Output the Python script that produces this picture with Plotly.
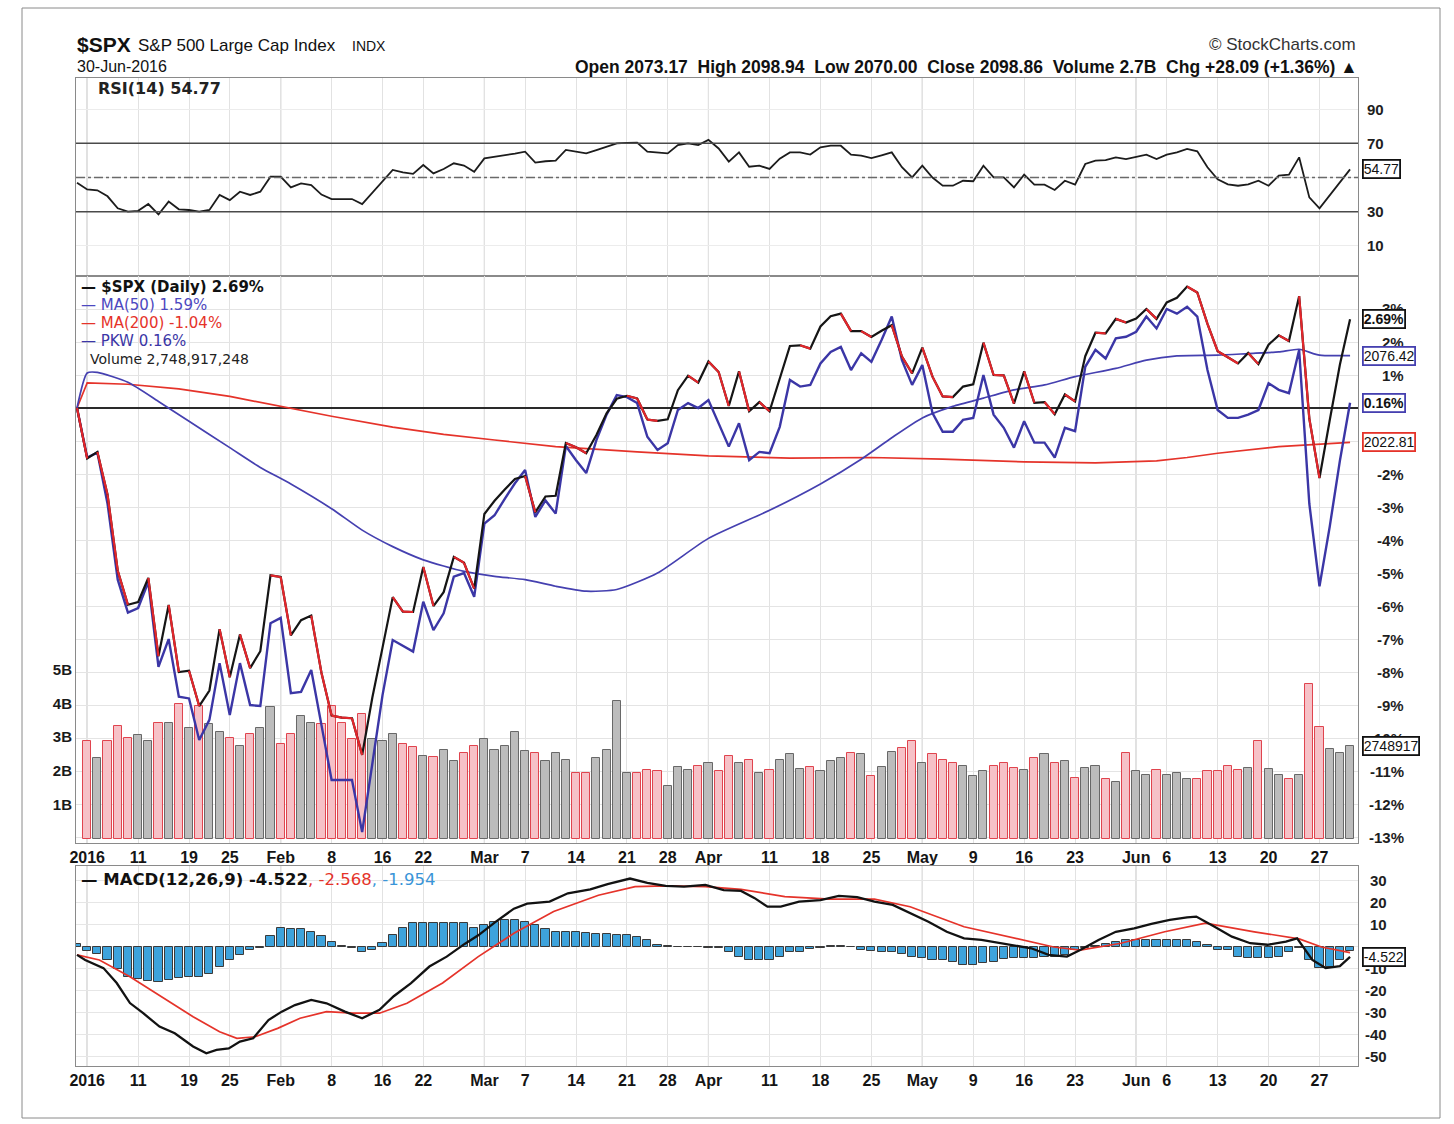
import plotly.graph_objects as go
import pandas as pd

# ---------------- data ----------------
holidays = ["2016-01-18", "2016-02-15", "2016-03-25", "2016-05-30"]
sessions = ["2015-12-31"] + [d.strftime("%Y-%m-%d") for d in pd.bdate_range("2016-01-04", "2016-06-30")
                             if d.strftime("%Y-%m-%d") not in holidays]

tick_dates = ["2016-01-04", "2016-01-11", "2016-01-19", "2016-01-25", "2016-02-01", "2016-02-08", "2016-02-16",
              "2016-02-22", "2016-03-01", "2016-03-07", "2016-03-14", "2016-03-21", "2016-03-28", "2016-04-01",
              "2016-04-11", "2016-04-18", "2016-04-25", "2016-05-02", "2016-05-09", "2016-05-16", "2016-05-23",
              "2016-06-01", "2016-06-06", "2016-06-13", "2016-06-20", "2016-06-27"]
tick_labels = ["2016", "11", "19", "25", "Feb", "8", "16", "22", "Mar", "7", "14", "21", "28", "Apr",
               "11", "18", "25", "May", "9", "16", "23", "Jun", "6", "13", "20", "27"]
month_labels = ["2016", "Feb", "Mar", "Apr", "May", "Jun"]

# $SPX performance (%)
spx_pct = [0, -1.53, -1.33, -2.63, -4.93, -5.96, -5.88, -5.15, -7.52, -5.97,
           -8.00, -7.96, -9.03, -8.56, -6.70, -8.16, -6.86, -7.88, -7.37, -5.07,
           -5.12, -6.89, -6.43, -6.29, -8.02, -9.32, -9.38, -9.40, -10.51, -8.77,
           -7.26, -5.73, -6.17, -6.18, -4.82, -6.00, -5.58, -4.51, -4.69, -5.47,
           -3.21, -2.81, -2.47, -2.15, -2.06, -3.16, -2.68, -2.66, -1.06, -1.19,
           -1.37, -0.82, -0.16, 0.28, 0.37, 0.29, -0.35, -0.39, -0.34, 0.54,
           0.98, 0.77, 1.41, 1.09, 0.06, 1.11, -0.10, 0.18, -0.10, 0.87,
           1.88, 1.90, 1.80, 2.47, 2.78, 2.86, 2.33, 2.33, 2.15, 2.34,
           2.51, 1.56, 1.05, 1.83, 0.95, 0.35, 0.33, 0.65, 0.72, 1.98,
           1.00, 0.99, 0.13, 1.11, 0.16, 0.18, -0.19, 0.41, 0.20, 1.57,
           2.28, 2.26, 2.70, 2.59, 2.71, 3.00, 2.70, 3.20, 3.34, 3.68,
           3.50, 2.55, 1.72, 1.54, 1.35, 1.67, 1.33, 1.92, 2.20, 2.03,
           3.39, -0.32, -2.12, -0.38, 1.31, 2.69]

# PKW performance (%)
pkw_pct = [0, -1.5, -1.35, -2.9, -5.2, -6.2, -6.06, -5.27, -7.84, -7.0,
           -8.75, -8.8, -10.06, -9.45, -7.73, -9.3, -7.73, -9.0, -9.03, -6.52,
           -6.36, -8.64, -8.6, -7.94, -9.6, -11.27, -11.27, -11.27, -12.85, -10.8,
           -8.7, -7.03, -7.2, -7.38, -5.87, -6.73, -6.22, -5.11, -5.0, -5.72,
           -3.5, -3.25, -2.75, -2.28, -1.88, -3.3, -2.8, -3.2, -1.15, -1.58,
           -1.97, -0.97, -0.2, 0.39, 0.33, 0.15, -0.87, -1.27, -1.07, -0.06,
           0.15, 0.0, 0.24, -0.46, -1.17, -0.46, -1.58, -1.33, -1.37, -0.57,
           0.85, 0.65, 0.7, 1.35, 1.7, 1.85, 1.15, 1.66, 1.4, 2.06,
           2.77, 1.45, 0.7, 1.3, -0.15, -0.72, -0.72, -0.36, -0.3, 1.0,
           -0.2, -0.6, -1.2, -0.4, -1.05, -1.05, -1.5, -0.6, -0.7, 1.25,
           1.76, 1.5, 2.11, 2.16, 2.31, 2.77, 2.41, 3.0, 2.86, 3.07,
           2.77, 1.15, -0.06, -0.3, -0.3, -0.2, -0.06, 0.75, 0.55, 0.45,
           1.76, -2.9, -5.4, -3.6, -1.6, 0.16]

# moving averages (% vs start), read at selected sessions
ma50_pos = [0, 1, 2, 5, 8, 11, 15, 18, 21, 25, 28, 31, 34, 38, 41, 44, 47, 50, 53, 57, 62, 68, 73, 77, 80,
            83, 86, 89, 92, 95, 98, 102, 105, 108, 112, 115, 118, 120, 122, 125]
ma50_pct = [0, 1.06, 1.08, 0.78, 0.2, -0.4, -1.2, -1.8, -2.3, -3.05, -3.7, -4.2, -4.6, -4.95, -5.1, -5.2, -5.4,
            -5.55, -5.5, -5.0, -3.95, -3.1, -2.3, -1.55, -0.9, -0.3, 0.05, 0.3, 0.55, 0.7, 0.95, 1.2, 1.45,
            1.58, 1.6, 1.65, 1.7, 1.78, 1.6, 1.59]
ma200_pos = [0, 1, 5, 10, 15, 20, 25, 31, 36, 41, 47, 55, 62, 70, 78, 85, 93, 100, 106, 109, 112, 118, 122, 125]
ma200_pct = [0, 0.76, 0.72, 0.58, 0.35, 0.05, -0.25, -0.58, -0.8, -0.97, -1.17, -1.33, -1.45, -1.52, -1.5,
             -1.55, -1.63, -1.66, -1.6, -1.5, -1.37, -1.17, -1.1, -1.04]

# volume (billions), sessions 1..125
volume_b = [2.9, 2.37, 2.9, 3.34, 2.99, 3.05, 2.9, 3.43, 3.43, 3.99,
            3.28, 3.93, 3.4, 3.14, 2.99, 2.75, 3.1, 3.28, 3.88, 2.8,
            3.1, 3.64, 3.43, 3.4, 3.93, 3.43, 2.95, 3.7, 2.95, 2.9,
            3.1, 2.8, 2.7, 2.45, 2.4, 2.62, 2.3, 2.52, 2.75, 2.95,
            2.62, 2.75, 3.14, 2.58, 2.52, 2.29, 2.52, 2.33, 1.93, 1.93,
            2.39, 2.62, 4.06, 1.93, 1.93, 2.03, 1.99, 1.57, 2.13, 2.03,
            2.16, 2.23, 1.99, 2.43, 2.23, 2.33, 1.93, 2.03, 2.33, 2.49,
            2.06, 2.13, 1.99, 2.29, 2.39, 2.52, 2.49, 1.86, 2.13, 2.55,
            2.68, 2.9, 2.23, 2.49, 2.33, 2.23, 2.16, 1.86, 2.0, 2.16,
            2.23, 2.1, 2.04, 2.39, 2.49, 2.23, 2.29, 1.8, 2.1, 2.16,
            1.77, 1.67, 2.52, 1.99, 1.89, 2.04, 1.87, 1.93, 1.77, 1.77,
            1.99, 1.99, 2.16, 2.04, 2.1, 2.88, 2.07, 1.89, 1.77, 1.87,
            4.56, 3.31, 2.65, 2.52, 2.75]

# RSI(14)
rsi = [47, 43, 42.5, 39, 32, 30, 30.5, 34.5, 28.4, 35.9,
       31.4, 31, 30, 31, 39.8, 36.8, 41.7, 39.8, 41.7, 50.5,
       50.5, 44.2, 46.6, 45.5, 40, 37.4, 37.4, 37.4, 34.5, 41,
       48, 54.4, 53, 52.1, 57.3, 52.4, 55, 58.3, 57, 53.4,
       61.2, 62, 63.2, 64, 65.1, 58.7, 59.5, 59.9, 66.1, 65,
       64.1, 66, 68, 70, 70.3, 70.4, 65.1, 64.8, 64.1, 69,
       70, 69, 72, 67, 59.3, 64.7, 56.3, 56.9, 55, 61,
       64.7, 64.7, 63.4, 67.7, 68.6, 68.6, 63.4, 62.8, 61.4, 63,
       64.7, 56, 50.1, 56.9, 50, 45.2, 45.2, 48.1, 47.8, 56.9,
       50.1, 50.1, 44.2, 51.7, 45.8, 45.8, 42.7, 48.1, 45.8, 57.9,
       59.9, 60.2, 61.8, 60.8, 62.2, 63.4, 60.8, 63.4, 64.7, 66.7,
       65.3, 56, 49, 46, 45.2, 46, 48.1, 45.2, 51.1, 51.7,
       61.8, 38.4, 32, 39.7, 47.3, 54.77]

# MACD(12,26,9) line and signal, read at curve vertices (session position, value)
macd_pos = [0, 0.8, 2.6, 3.9, 5.2, 6.5, 8.1, 9.6, 11.4, 12.7, 13.7, 14.9, 16, 17.3, 18.8, 20.1, 21.4, 23, 24.5,
            26.3, 28, 29.7, 31.1, 32.8, 34.6, 36.3, 38.1, 39.4, 41.1, 42.9, 44.2, 46.4, 48.2, 50.4, 52.1, 54.3,
            56, 57.8, 59.6, 61.7, 63.5, 65.2, 66.5, 67.8, 69.1, 70.9, 73, 74.8, 76.6, 78.3, 80.1, 81.8, 83.6,
            85.4, 87.1, 88.8, 90.6, 92.3, 93.7, 95.4, 97.2, 98.5, 100.3, 102, 103.8, 105.5, 107.3, 109, 109.9,
            111.7, 113.4, 115.2, 116.9, 118.7, 119.8, 121.3, 122.6, 124, 125]
macd_val = [-3.6, -5.9, -9.6, -16.4, -25.5, -30.1, -36.2, -39.2, -45.2, -48.3, -46.8, -46.1, -43, -41.5, -33.2,
            -29.4, -26.4, -24.1, -25.6, -29.4, -32.4, -28.6, -22.4, -16.4, -8.9, -4.4, 1.5, 5.3, 11.4, 17.4,
            19.7, 20.6, 24.4, 26.2, 28.6, 31.1, 29.1, 27.8, 27.4, 28.2, 25.8, 25.5, 22.3, 18.3, 18.3, 20.6,
            21.3, 23.2, 22.7, 20.6, 19.1, 15.3, 11.5, 6.9, 3.9, 3.2, 1.7, 0.5, -0.6, -3.6, -4.4, -1.4, 3.2,
            6.9, 8.5, 10.5, 12.3, 13.5, 13.8, 9.2, 4.7, 1.7, 1.0, 2.4, 3.9, -5.9, -9.6, -8.7, -4.522]
signal_pos = [0, 2.2, 5.2, 8.3, 11.4, 14, 15.7, 17.5, 19.7, 21.9, 24.5, 27.1, 29.7, 32.4, 35.9, 39.4, 42.9,
              46.8, 51.2, 54.8, 57.8, 61.7, 65.2, 69.5, 73.9, 78.3, 81.8, 87.1, 91.5, 95.9, 98.5, 102.5, 106.8,
              110.8, 115.6, 120, 122.2, 125]
signal_val = [-3.6, -5.9, -13.5, -22.6, -31.7, -38.5, -41.5, -40.8, -37, -32.4, -29.4, -30.1, -30.1, -25.6,
              -16.4, -4.4, 6.2, 16.1, 23.5, 27.4, 27.8, 27.4, 26.2, 22.9, 21.7, 21.7, 18.3, 9.2, 4.7, 0, -1.4,
              1.7, 6.9, 10.8, 6.9, 3.7, 0, -2.568]
macd_hist = [1.5, -2, -3, -6, -10, -13.5, -14.5, -15.5, -16, -15,
             -14, -13.5, -13.5, -12.5, -9, -6, -3.5, -1.2, -0.3, 5,
             8.6, 8.2, 8, 7, 5, 2.4, 0.4, -0.6, -2.1, -1.4,
             1.7, 5.5, 8.6, 10.9, 10.9, 10.9, 10.9, 10.9, 10.9, 8.6,
             10.1, 11.5, 12.3, 12.3, 11.5, 10.1, 8, 7, 7, 7,
             6.2, 6, 6, 5.5, 5.5, 4.7, 3.2, 0.9, 0.3, 0.2,
             -0.2, 0.1, -0.3, -0.5, -2.1, -4.4, -5.9, -5.9, -5.9, -4.4,
             -2.1, -2.1, -1.1, -0.3, 0.3, 0.5, -0.2, -1.5, -2, -2.5,
             -2.2, -3, -4.4, -5.2, -5.9, -6, -7, -8, -8.2, -7.5,
             -6.7, -5.5, -5, -5.1, -5, -4.4, -4.4, -3.6, -1.5, -0.4,
             0.5, 1.2, 2.4, 3, 3.2, 3.2, 3, 3, 3.2, 3.2,
             2.4, 0.9, -1.4, -1.4, -4.4, -4.8, -5.1, -4.8, -4.4, -2.5,
             -0.5, -6, -9.5, -9, -6, -1.954]

pct_tick_vals = [3, 2, 1, -2, -3, -4, -5, -6, -7, -8, -9, -10, -11, -12, -13]
pct_tick_text = ["3%", "2%", "1%", "-2%", "-3%", "-4%", "-5%", "-6%", "-7%", "-8%", "-9%", "-10%", "-11%",
                 "-12%", "-13%"]
rsi_tick_vals = [90, 70, 30, 10]
macd_tick_vals = [30, 20, 10, -10, -20, -30, -40, -50]
vol_tick_vals = [1, 2, 3, 4, 5]
vol_tick_text = ["1B", "2B", "3B", "4B", "5B"]

# ---------------- layout helpers ----------------
W, H = 1454, 1124
L, R, T, B = 76, 1358, 78, 1066


def px_x(px):
    return (px - L) / (R - L)


def px_y(py):
    return (B - py) / (B - T)


HDR = "Liberation Sans, Arial, sans-serif"
LBL = "DejaVu Sans, Verdana, sans-serif"
BLUE = "#4540b0"
RED = "#e5332a"

X = list(range(len(sessions)))
tick_pos = [sessions.index(d) for d in tick_dates]
month_pos = [p for p, t in zip(tick_pos, tick_labels) if t in month_labels]

fig = go.Figure()

# ---- RSI panel ----
fig.add_trace(go.Scatter(x=X, y=rsi, xaxis="x", yaxis="y", mode="lines",
                         line=dict(color="#1c1c1c", width=1.8), hoverinfo="skip"))

# ---- main panel: volume on base axis (y2), performance lines on overlay (y3) ----
down = [spx_pct[i] < spx_pct[i - 1] for i in range(1, len(spx_pct))]
fig.add_trace(go.Bar(x=X[1:], y=volume_b, xaxis="x2", yaxis="y2", width=0.8,
                     marker=dict(color=["#f6c1c7" if d else "#bcbcbc" for d in down],
                                 line=dict(color=["#e0444e" if d else "#686868" for d in down], width=1)),
                     hoverinfo="skip"))
fig.add_trace(go.Scatter(x=ma200_pos, y=ma200_pct, xaxis="x2", yaxis="y3", mode="lines",
                         line=dict(color=RED, width=1.7), hoverinfo="skip"))
fig.add_trace(go.Scatter(x=ma50_pos, y=ma50_pct, xaxis="x2", yaxis="y3", mode="lines",
                         line=dict(color=BLUE, width=1.7, shape="spline", smoothing=0.6), hoverinfo="skip"))
fig.add_trace(go.Scatter(x=X, y=pkw_pct, xaxis="x2", yaxis="y3", mode="lines",
                         line=dict(color="#3b36a6", width=2.4), hoverinfo="skip"))
fig.add_trace(go.Scatter(x=X, y=spx_pct, xaxis="x2", yaxis="y3", mode="lines",
                         line=dict(color="#151515", width=2.2), hoverinfo="skip"))
rx, ry = [], []
for i in range(1, len(spx_pct)):
    if spx_pct[i] < spx_pct[i - 1]:
        rx += [X[i - 1], X[i], None]
        ry += [spx_pct[i - 1], spx_pct[i], None]
fig.add_trace(go.Scatter(x=rx, y=ry, xaxis="x2", yaxis="y3", mode="lines", connectgaps=False,
                         line=dict(color="#e3262b", width=2.2), hoverinfo="skip"))

# ---- MACD panel ----
fig.add_trace(go.Bar(x=X, y=macd_hist, xaxis="x3", yaxis="y4", width=0.8,
                     marker=dict(color="#3ea3dc", line=dict(color="#3a3a3a", width=1)), hoverinfo="skip"))
fig.add_trace(go.Scatter(x=signal_pos, y=signal_val, xaxis="x3", yaxis="y4", mode="lines",
                         line=dict(color=RED, width=1.7), hoverinfo="skip"))
fig.add_trace(go.Scatter(x=macd_pos, y=macd_val, xaxis="x3", yaxis="y4", mode="lines",
                         line=dict(color="#121212", width=2.3), hoverinfo="skip"))

xr = [-0.098, 125.78]
axis_line = dict(showline=True, mirror=True, linecolor="#8a8a8a", linewidth=1)
xcommon = dict(range=xr, tickmode="array", tickvals=tick_pos, ticktext=tick_labels, showgrid=True,
               gridcolor="#e2e2e2", gridwidth=1, zeroline=False, ticks="", fixedrange=True,
               tickfont=dict(family=HDR, size=16, color="#141414", weight="bold"), **axis_line)

fig.update_layout(
    width=W, height=H, margin=dict(l=L, r=W - R, t=T, b=H - B, pad=0),
    paper_bgcolor="white", plot_bgcolor="white", showlegend=False, bargap=0,
    xaxis=dict(anchor="y", showticklabels=False, **xcommon),
    xaxis2=dict(anchor="y2", showticklabels=True, **xcommon),
    xaxis3=dict(anchor="y4", showticklabels=True, **xcommon),
    yaxis=dict(domain=[px_y(276), 1], range=[-7.6, 108.2], tickvals=[10, 30, 50, 70, 90],
               showticklabels=False, showgrid=True, gridcolor="#ececec", zeroline=False, ticks="",
               fixedrange=True, **axis_line),
    yaxis2=dict(domain=[px_y(843), px_y(276)], range=[-0.13, 16.64], tickvals=vol_tick_vals,
                ticktext=vol_tick_text, side="left", showgrid=False, zeroline=False, ticks="",
                tickfont=dict(family=HDR, size=15, color="#1a1a1a", weight="bold"), fixedrange=True,
                **axis_line),
    yaxis3=dict(overlaying="y2", side="right", range=[-13.18, 4.0], tick0=0, dtick=1, showticklabels=False,
                showgrid=True, gridcolor="#e4e4e4", zeroline=True, zerolinecolor="#2a2a2a", zerolinewidth=1.6,
                ticks="", fixedrange=True, showline=False),
    yaxis4=dict(domain=[0, px_y(866)], range=[-54.1, 36.8], tick0=0, dtick=10, showticklabels=False,
                showgrid=True, gridcolor="#e6e6e6", zeroline=False, ticks="", fixedrange=True, **axis_line),
)

# ---- shapes: month separators, RSI levels, outer frame ----
shapes = []
for xa, ya in [("x", "y"), ("x2", "y2"), ("x3", "y4")]:
    for m in month_pos:
        shapes.append(dict(type="line", xref=xa, yref=ya + " domain", x0=m, x1=m, y0=0, y1=1,
                           line=dict(color="#a3a3a3", width=1), layer="below"))
for lvl in (70, 30):
    shapes.append(dict(type="line", xref="x domain", yref="y", x0=0, x1=1, y0=lvl, y1=lvl,
                       line=dict(color="#4a4a4a", width=1.6)))
shapes.append(dict(type="line", xref="x domain", yref="y", x0=0, x1=1, y0=50, y1=50,
                   line=dict(color="#6a6a6a", width=1.6, dash="dashdot")))
shapes.append(dict(type="rect", xref="paper", yref="paper", x0=px_x(22), x1=px_x(1440),
                   y0=px_y(1118), y1=px_y(8), line=dict(color="#8a8a8a", width=1)))
fig.update_layout(shapes=shapes)

# ---- annotations ----
ann = []


def note(text, px, py, size, color="#111", family=HDR, xanchor="left"):
    ann.append(dict(text=text, x=px_x(px), y=px_y(py), xref="paper", yref="paper", xanchor=xanchor,
                    yanchor="middle", showarrow=False, font=dict(family=family, size=size, color=color)))


note("<b>$SPX</b>", 75, 45, 21)
note("S&P 500 Large Cap Index", 136, 46, 17)
note("INDX", 350, 46, 14)
note("30-Jun-2016", 75, 66, 16)
note("<b>Open 2073.17\u00a0 High 2098.94\u00a0 Low 2070.00\u00a0 Close 2098.86\u00a0 "
     "Volume 2.7B\u00a0 Chg +28.09 (+1.36%) \u25b2</b>", 1360, 67, 17.5, xanchor="right")
note("\u00a9 StockCharts.com", 1358, 45, 17, color="#333", xanchor="right")
note("<b>RSI(14) 54.77</b>", 96, 88, 16, color="#222", family=LBL)

note("<b>\u2014 $SPX (Daily) 2.69%</b>", 79, 287, 15, color="#111", family=LBL)
note("\u2014 MA(50) 1.59%", 79, 305, 15, color="#4c48c0", family=LBL)
note("\u2014 MA(200) -1.04%", 79, 323, 15, color=RED, family=LBL)
note("\u2014 PKW 0.16%", 79, 341, 15, color="#3b36a6", family=LBL)
note("Volume 2,748,917,248", 88, 359, 14, color="#222", family=LBL)
note("<b>\u2014 MACD(12,26,9) -4.522</b><span style='color:#e5332a'>, -2.568</span>"
     "<span style='color:#3a95d8'>, -1.954</span>", 79, 879, 16.5, color="#111", family=LBL)

# right-hand axis labels
for v, t in zip(pct_tick_vals, pct_tick_text):
    ann.append(dict(text=t, x=px_x(1406), xref="paper", y=v, yref="y3", xanchor="right", yanchor="middle",
                    showarrow=False, font=dict(family=HDR, size=15, color="#1e1e1e", weight="bold")))
for v in rsi_tick_vals:
    ann.append(dict(text=str(v), x=px_x(1386), xref="paper", y=v, yref="y", xanchor="right", yanchor="middle",
                    showarrow=False, font=dict(family=HDR, size=15, color="#1e1e1e", weight="bold")))
for v in macd_tick_vals:
    ann.append(dict(text=str(v), x=px_x(1389), xref="paper", y=v, yref="y4", xanchor="right",
                    yanchor="middle", showarrow=False,
                    font=dict(family=HDR, size=15, color="#1e1e1e", weight="bold")))

# last-value boxes
boxes = [("<b>%.2f%%</b>" % spx_pct[-1], spx_pct[-1], "y3", "#111"),
         ("2076.42", ma50_pct[-1], "y3", BLUE),
         ("<b>%.2f%%</b>" % pkw_pct[-1], pkw_pct[-1], "y3", BLUE),
         ("2022.81", ma200_pct[-1], "y3", RED),
         ("2748917", volume_b[-1], "y2", "#111"),
         ("%.2f" % rsi[-1], rsi[-1], "y", "#111"),
         ("%.3f" % macd_val[-1], macd_val[-1], "y4", "#111")]
for txt, v, yr, col in boxes:
    ann.append(dict(text=txt, x=px_x(1362), xref="paper", y=v, yref=yr, xanchor="left", yanchor="middle",
                    showarrow=False, bgcolor="white", bordercolor=col, borderwidth=1.8, borderpad=0,
                    font=dict(family=HDR, size=14, color="#111")))

fig.update_layout(annotations=ann)

fig.write_html("out.html", config={"displayModeBar": False},
               post_script="document.body.style.margin='0px';document.body.style.overflow='hidden';")
